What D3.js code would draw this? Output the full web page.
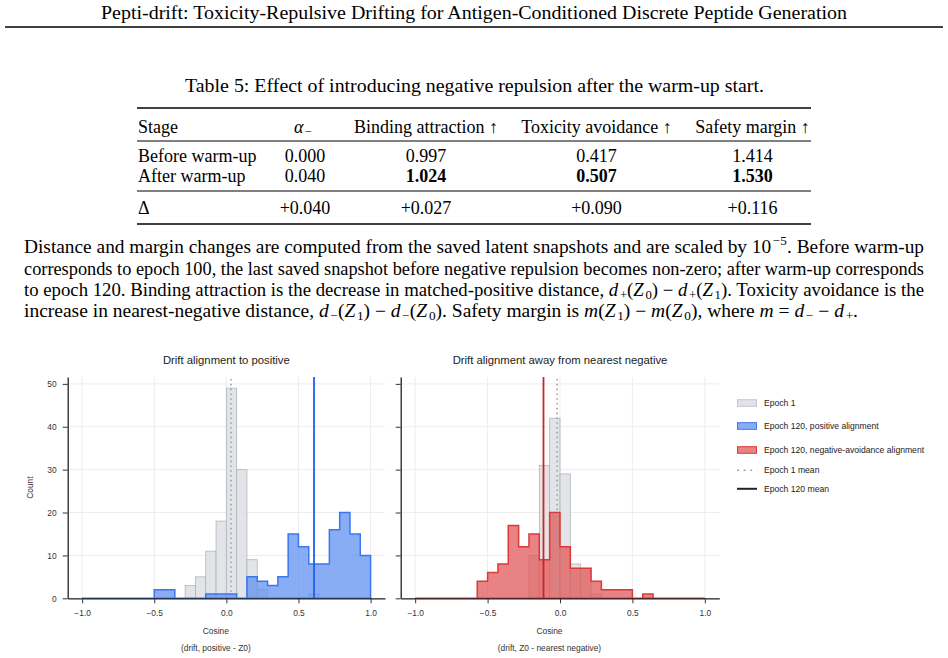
<!DOCTYPE html>
<html>
<head>
<meta charset="utf-8">
<script src="https://cdn.jsdelivr.net/npm/d3@7"></script>
<style>
  body { margin: 0; background: #fff; }
  svg { display: block; }
</style>
</head>
<body>
<svg id="page" width="948" height="658"></svg>
<script>
// histogram counts, 28 bins over [-1, 1]
const binRange = [-1, 1];
const binCount = 28;
const epoch1Pos   = [0,0,0,0,0,0,0,0,0,0, 3,5,11,18,49,30,9,2,0,0, 0,0,1,0,0,0,0,0];
const epoch120Pos = [0,0,0,0,0,0,0,2,2,0, 0,0,1,1,1,0,5,4,3,5, 15,12,8,8,16,20,15,10];
const epoch1Neg   = [0,0,0,0,0,0,0,0,0,0, 0,10,31,42,29,8,7,1,0,0, 0,0,0,0,0,0,0,0];
const epoch120Neg = [0,0,0,0,0,0,4,6,8,17, 12,15,9,20,12,7,7,4,2,2, 2,0,1,0,0,0,0,0];
const epoch1Means = [0.032, -0.02];
const epoch120Means = [0.608, -0.114];

const xTicks = [-1, -0.5, 0, 0.5, 1];
const yTicks = [0, 10, 20, 30, 40, 50];
const panelTitles = ['Drift alignment to positive', 'Drift alignment away from nearest negative'];
const xSubLabels = ['(drift, positive - Z0)', '(drift, Z0 - nearest negative)'];
const legendLabels = ['Epoch 1', 'Epoch 120, positive alignment', 'Epoch 120, negative-avoidance alignment', 'Epoch 1 mean', 'Epoch 120 mean'];

// table
const tableCols = ['Stage', 'alpha', 'Binding attraction ↑', 'Toxicity avoidance ↑', 'Safety margin ↑'];
const stages = ['Before warm-up', 'After warm-up'];
const alphas = ['0.000', '0.040'];
const binding = ['0.997', '1.024'];
const toxicity = ['0.417', '0.507'];
const safety = ['1.414', '1.530'];
const deltas = ['+0.040', '+0.027', '+0.090', '+0.116'];

const serif = '"Liberation Serif", "Times New Roman", serif';
const sans = '"Liberation Sans", Arial, sans-serif';

const svg = d3.select('#page');

// ---------- page text ----------
function richText(g, segs, x, y, size, width, anchor) {
  const t = g.append('text')
    .attr('x', x).attr('y', y)
    .attr('font-family', serif).attr('font-size', size)
    .attr('fill', '#000')
    .attr('text-anchor', anchor || 'start');
  let shift = 0;
  segs.forEach(s => {
    const [str, kind] = Array.isArray(s) ? s : [s, 'n'];
    const ts = t.append('tspan').text(str);
    const target = kind === 'sub' ? size * 0.18 : kind === 'sup' ? -size * 0.42 : 0;
    if (target !== shift) { ts.attr('dy', target - shift); shift = target; }
    if (kind === 'sub' || kind === 'sup') ts.attr('font-size', size * 0.68).attr('dx', 1.6);
    if (kind === 'i') ts.attr('font-style', 'italic');
    if (kind === 'b') ts.attr('font-weight', 'bold');
  });
  if (width) t.attr('textLength', width).attr('lengthAdjust', 'spacingAndGlyphs');
  return t;
}

const pageG = svg.append('g');
richText(pageG, ['Pepti-drift: Toxicity-Repulsive Drifting for Antigen-Conditioned Discrete Peptide Generation'], 101, 19, 18, 746);
pageG.append('line').attr('x1', 5).attr('x2', 943).attr('y1', 27).attr('y2', 27)
  .attr('stroke', '#000').attr('stroke-width', 1.3);

richText(pageG, ['Table 5: Effect of introducing negative repulsion after the warm-up start.'], 185, 92, 18, 579);

// table rules
[[108, 1.5], [141, 1], [191, 1], [224, 1.5]].forEach(([yy, w]) => {
  pageG.append('line').attr('x1', 137).attr('x2', 811).attr('y1', yy).attr('y2', yy)
    .attr('stroke', '#000').attr('stroke-width', w);
});

const colX = [138, 303, 426, 596.5, 752.5];
const headY = 133, rowY = [162, 182], deltaY = 214;
richText(pageG, ['Stage'], colX[0], headY, 18);
richText(pageG, [['α', 'i'], ['−', 'sub']], colX[1], headY, 18, null, 'middle');
tableCols.slice(2).forEach((c, i) => richText(pageG, [c], colX[i + 2], headY, 18, null, 'middle'));
stages.forEach((s, r) => {
  richText(pageG, [s], colX[0], rowY[r], 18);
  const bold = r === 1 ? 'b' : 'n';
  richText(pageG, [[alphas[r], 'n']], colX[1] + 2, rowY[r], 18, null, 'middle');
  richText(pageG, [[binding[r], bold]], colX[2], rowY[r], 18, null, 'middle');
  richText(pageG, [[toxicity[r], bold]], colX[3], rowY[r], 18, null, 'middle');
  richText(pageG, [[safety[r], bold]], colX[4], rowY[r], 18, null, 'middle');
});
richText(pageG, ['Δ'], colX[0], deltaY, 18);
deltas.forEach((d, i) => richText(pageG, [d], colX[i + 1] + (i === 0 ? 2 : 0), deltaY, 18, null, 'middle'));

// paragraph
const paraLines = [
  { segs: ['Distance and margin changes are computed from the saved latent snapshots and are scaled by 10', ['−5', 'sup'], ['.  Before warm-up', 'n']], w: 900 },
  { segs: ['corresponds to epoch 100, the last saved snapshot before negative repulsion becomes non-zero; after warm-up corresponds'], w: 900 },
  { segs: ['to epoch 120. Binding attraction is the decrease in matched-positive distance, ', ['d', 'i'], ['+', 'sub'], ['(', 'n'], ['Z', 'i'], ['0', 'sub'], [') − ', 'n'], ['d', 'i'], ['+', 'sub'], ['(', 'n'], ['Z', 'i'], ['1', 'sub'], ['). Toxicity avoidance is the', 'n']], w: 900 },
  { segs: ['increase in nearest-negative distance, ', ['d', 'i'], ['−', 'sub'], ['(', 'n'], ['Z', 'i'], ['1', 'sub'], [') − ', 'n'], ['d', 'i'], ['−', 'sub'], ['(', 'n'], ['Z', 'i'], ['0', 'sub'], ['). Safety margin is ', 'n'], ['m', 'i'], ['(', 'n'], ['Z', 'i'], ['1', 'sub'], [') − ', 'n'], ['m', 'i'], ['(', 'n'], ['Z', 'i'], ['0', 'sub'], ['), where ', 'n'], ['m', 'i'], [' = ', 'n'], ['d', 'i'], ['−', 'sub'], [' − ', 'n'], ['d', 'i'], ['+', 'sub'], ['.', 'n']], w: 834 }
];
const paraY = [253, 275, 296, 317];
paraLines.forEach((l, i) => richText(pageG, l.segs, 24, paraY[i], 18, l.w));

// ---------- histograms ----------
const plotTop = 377, plotBottom = 598.3;
const y = d3.scaleLinear().domain([0, 51.6]).range([plotBottom, plotTop]);
const edges = d3.range(binCount + 1).map(i => binRange[0] + i * (binRange[1] - binRange[0]) / binCount);

const greyFill = '#dfe0e5', greyEdge = '#b1b5bd', greyMean = '#9ca3af';
const panels = [
  { left: 67.7, right: 385, base: epoch1Pos, after: epoch120Pos, fill: '#5b8ef0', edge: '#3b76ee', line: '#1d5fea', showY: true },
  { left: 400.7, right: 719.3, base: epoch1Neg, after: epoch120Neg, fill: '#e05252', edge: '#dc3a3a', line: '#d42222', showY: false }
];

panels.forEach((p, pi) => {
  const x = d3.scaleLinear().domain([-1.1, 1.1]).range([p.left, p.right]);
  const g = svg.append('g');

  // grid
  g.selectAll('.gx').data(xTicks).enter().append('line')
    .attr('x1', d => x(d)).attr('x2', d => x(d)).attr('y1', plotTop).attr('y2', plotBottom)
    .attr('stroke', '#ebebeb').attr('stroke-width', 0.9);
  g.selectAll('.gy').data(yTicks).enter().append('line')
    .attr('x1', p.left).attr('x2', p.right).attr('y1', d => y(d)).attr('y2', d => y(d))
    .attr('stroke', '#ebebeb').attr('stroke-width', 0.9);

  // epoch 1 bars
  const bins = p.base.map((c, i) => ({ x0: edges[i], x1: edges[i + 1], c }));
  g.selectAll('.bar').data(bins.filter(b => b.c > 0)).enter().append('rect')
    .attr('x', d => x(d.x0)).attr('width', d => x(d.x1) - x(d.x0))
    .attr('y', d => y(d.c)).attr('height', d => y(0) - y(d.c))
    .attr('fill', greyFill).attr('fill-opacity', 0.88)
    .attr('stroke', greyEdge).attr('stroke-width', 0.8);

  // epoch 120 step-filled
  const pts = [[x(edges[0]), y(0)]];
  p.after.forEach((c, i) => { pts.push([x(edges[i]), y(c)]); pts.push([x(edges[i + 1]), y(c)]); });
  pts.push([x(edges[binCount]), y(0)]);
  g.append('path').attr('d', d3.line()(pts) + 'Z')
    .attr('fill', p.fill).attr('fill-opacity', 0.72)
    .attr('stroke', p.edge).attr('stroke-width', 1.5).attr('stroke-linejoin', 'miter');

  // means
  g.append('line').attr('x1', x(epoch1Means[pi])).attr('x2', x(epoch1Means[pi]))
    .attr('y1', plotTop + 2).attr('y2', plotBottom)
    .attr('stroke', greyMean).attr('stroke-width', 1.6).attr('stroke-dasharray', '1.6,3.2');
  g.append('line').attr('x1', x(epoch120Means[pi])).attr('x2', x(epoch120Means[pi]))
    .attr('y1', plotTop).attr('y2', plotBottom)
    .attr('stroke', p.line).attr('stroke-width', 1.8);

  // axes
  const xAxis = g.append('g').attr('transform', `translate(0,${plotBottom})`)
    .call(d3.axisBottom(x).tickValues(xTicks).tickSize(5).tickSizeOuter(0).tickPadding(6.5).tickFormat(d3.format('.1f')));
  const yAxis = g.append('g').attr('transform', `translate(${p.left},0)`)
    .call(d3.axisLeft(y).tickValues(yTicks).tickSize(5).tickSizeOuter(0).tickPadding(6)
      .tickFormat(p.showY ? d3.format('d') : ''));
  [xAxis, yAxis].forEach(a => {
    a.select('.domain').attr('stroke', '#222').attr('stroke-width', 1.3);
    a.selectAll('.tick line').attr('stroke', '#333').attr('stroke-width', 1);
    a.selectAll('.tick text').attr('font-family', sans).attr('font-size', 8.4).attr('fill', '#333');
  });

  const cx = (p.left + p.right) / 2;
  g.append('text').attr('x', cx).attr('y', 364).attr('text-anchor', 'middle')
    .attr('font-family', sans).attr('font-size', 11.3).attr('fill', '#222').text(panelTitles[pi]);
  g.append('text').attr('x', cx - 10.5).attr('y', 634).attr('text-anchor', 'middle')
    .attr('font-family', sans).attr('font-size', 8.4).attr('fill', '#333').text('Cosine');
  g.append('text').attr('x', cx - 10.5).attr('y', 651).attr('text-anchor', 'middle')
    .attr('font-family', sans).attr('font-size', 8.4).attr('fill', '#333').text(xSubLabels[pi]);
});

svg.append('text').attr('transform', `translate(32.5,${(plotTop + plotBottom) / 2}) rotate(-90)`)
  .attr('text-anchor', 'middle').attr('font-family', sans).attr('font-size', 8.4)
  .attr('fill', '#333').text('Count');

// ---------- legend ----------
const legendY = [403, 426, 450, 470.3, 488.8];
const lg = svg.append('g');
const patchStyle = [
  { fill: greyFill, stroke: '#c4c7cd', op: 0.9 },
  { fill: '#5b8ef0', stroke: '#3b76ee', op: 0.72 },
  { fill: '#e05252', stroke: '#dc3a3a', op: 0.72 }
];
patchStyle.forEach((s, i) => {
  lg.append('rect').attr('x', 737.5).attr('y', legendY[i] - 3.3).attr('width', 19).attr('height', 6.6)
    .attr('fill', s.fill).attr('fill-opacity', s.op).attr('stroke', s.stroke).attr('stroke-width', 1);
});
lg.append('line').attr('x1', 737).attr('x2', 757).attr('y1', legendY[3]).attr('y2', legendY[3])
  .attr('stroke', greyMean).attr('stroke-width', 1.6).attr('stroke-dasharray', '2,4.6');
lg.append('line').attr('x1', 737).attr('x2', 757).attr('y1', legendY[4]).attr('y2', legendY[4])
  .attr('stroke', '#1f2430').attr('stroke-width', 2);
legendLabels.forEach((t, i) => {
  lg.append('text').attr('x', 764).attr('y', legendY[i] + 3).attr('font-family', sans)
    .attr('font-size', 8.6).attr('fill', '#222').text(t);
});
</script>
</body>
</html>
